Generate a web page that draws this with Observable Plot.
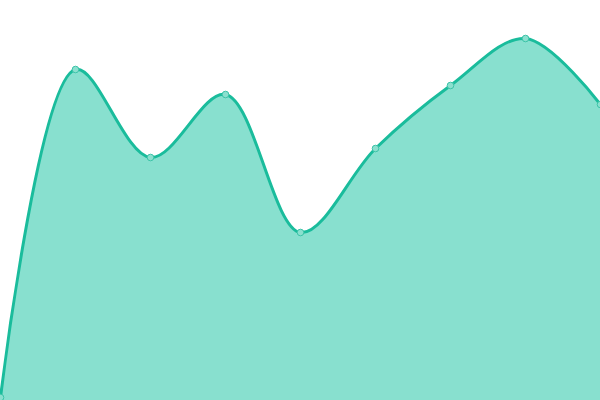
<!DOCTYPE html>
<html><head><meta charset="utf-8">
<script src="https://cdn.jsdelivr.net/npm/d3@7"></script>
<script src="https://cdn.jsdelivr.net/npm/@observablehq/plot@0.6"></script>
<style>body{margin:0;background:#fff}</style>
</head><body><div id="chart"></div>
<script>
const xs = [0, 1, 2, 3, 4, 5, 6, 7, 8];
const values = [3, 331, 243, 306, 168, 252, 315, 362, 296];
const data = xs.map((x, i) => ({x, y: values[i]}));
const chart = Plot.plot({
  width: 600, height: 400,
  margin: 0,
  x: {domain: [0, 8], axis: null},
  y: {domain: [0, 400], axis: null},
  marks: [
    Plot.areaY(data, {x: "x", y: "y", curve: "catmull-rom", fill: "#88e0cf"}),
    Plot.lineY(data, {x: "x", y: "y", curve: "catmull-rom", stroke: "#1abc9c", strokeWidth: 3}),
    Plot.dot(data, {x: "x", y: "y", r: 3.3, fill: "#8be0cf", stroke: "#3cc4a8", strokeWidth: 1})
  ]
});
document.getElementById("chart").appendChild(chart);
</script></body></html>
